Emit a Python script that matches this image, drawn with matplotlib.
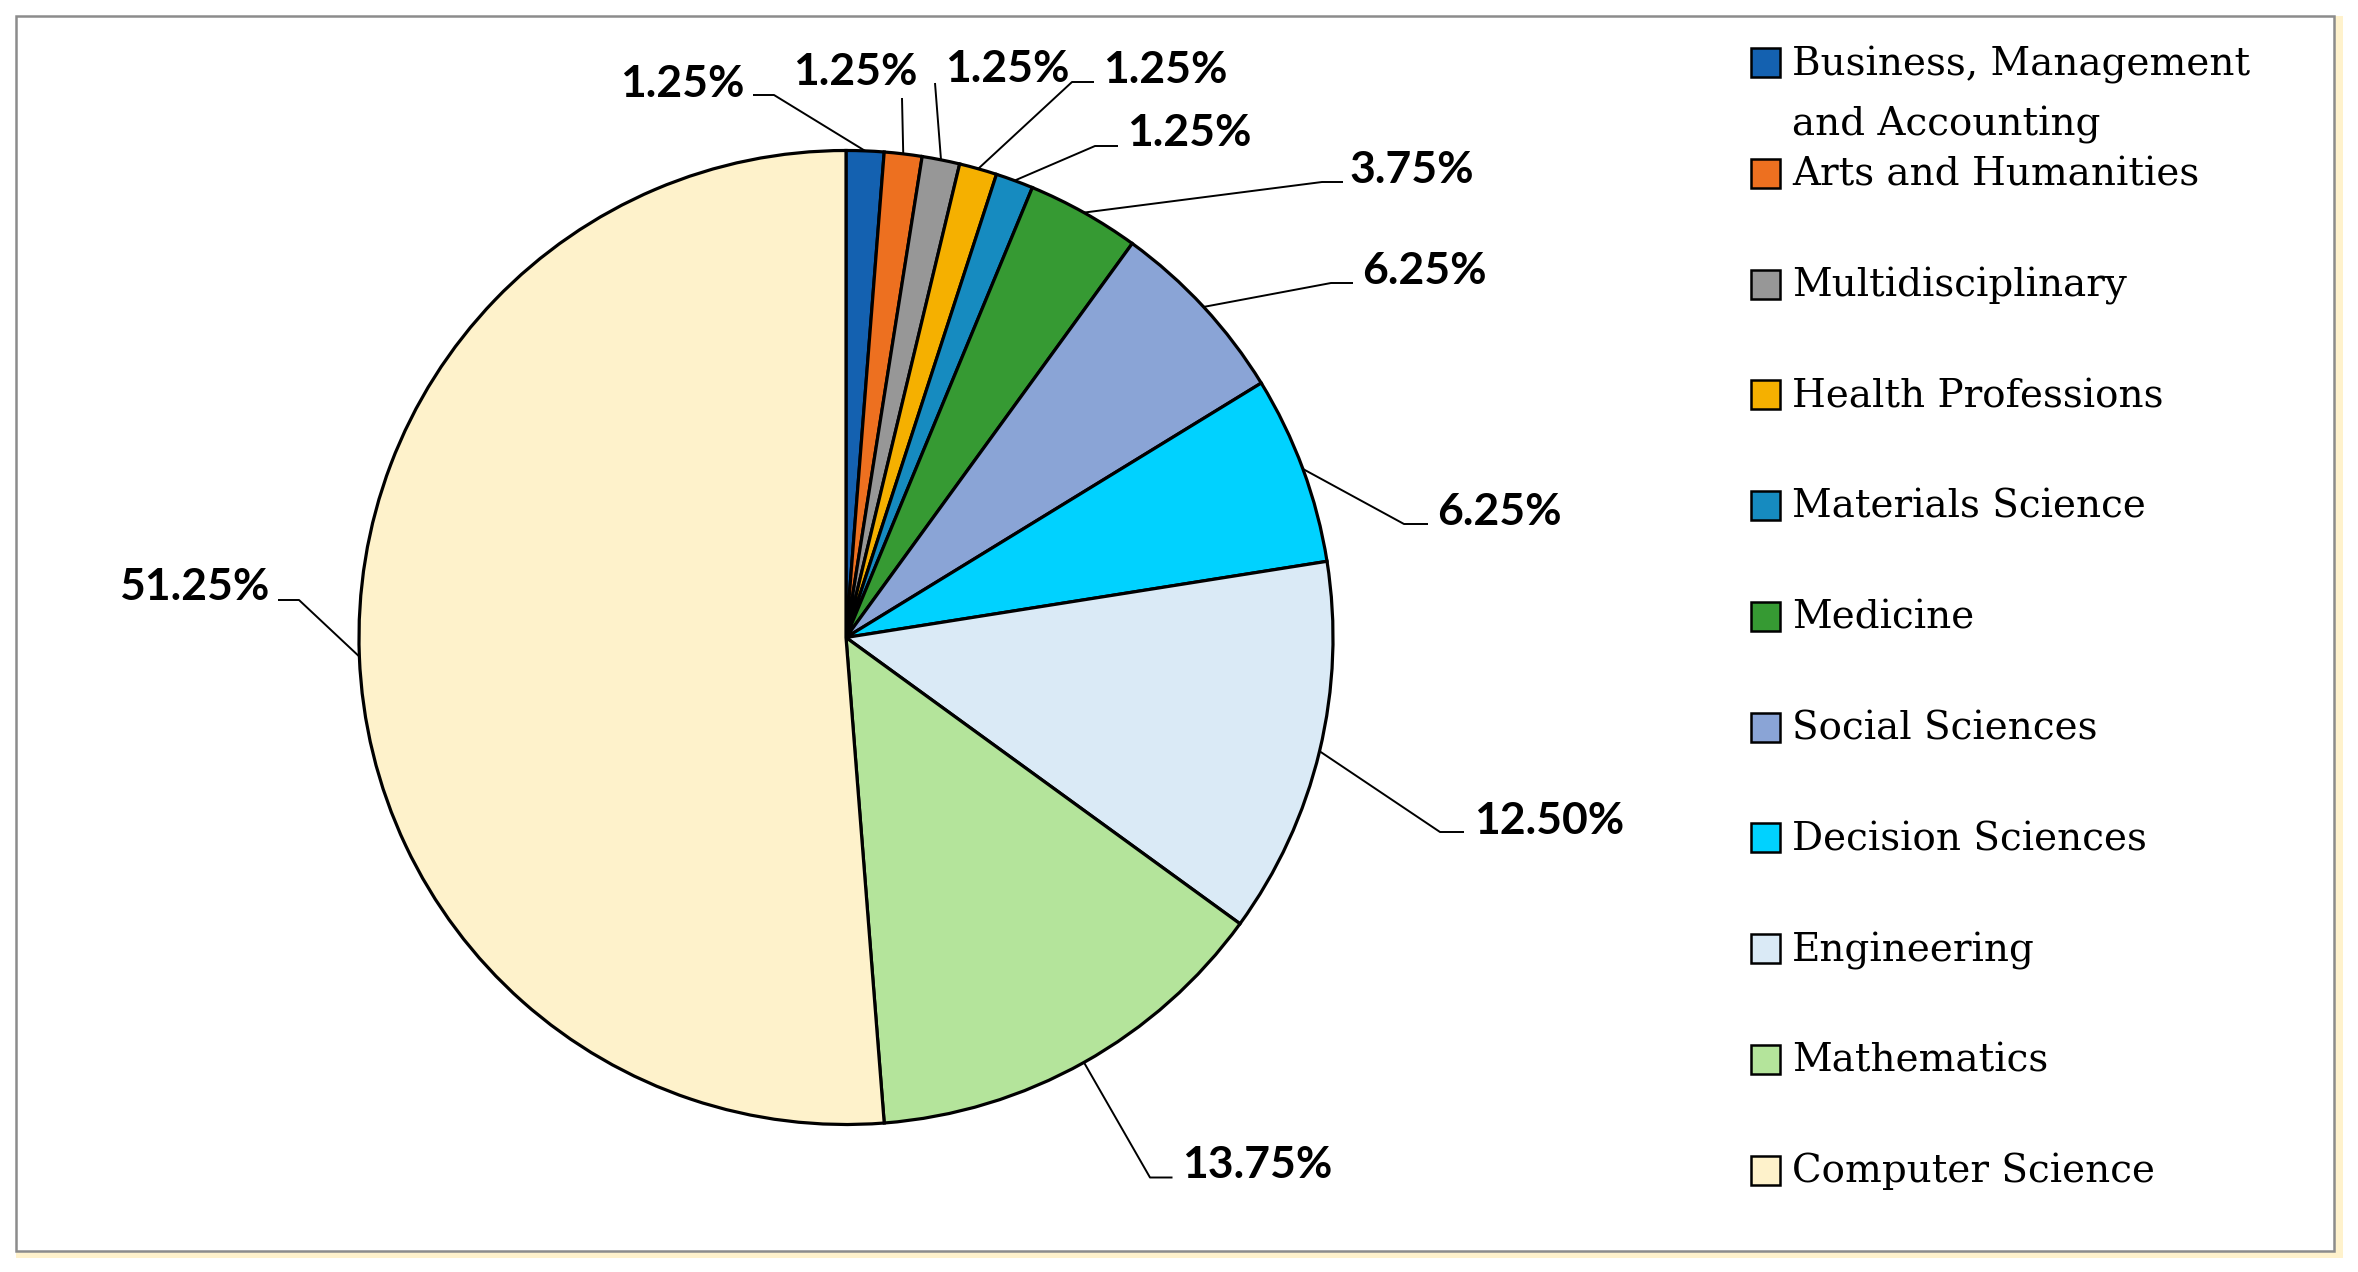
import matplotlib
matplotlib.use("Agg")
import numpy as np
import matplotlib.pyplot as plt
from matplotlib.patches import Rectangle

# data
categories = ["Business, Management\nand Accounting", "Arts and Humanities",
              "Multidisciplinary", "Health Professions", "Materials Science",
              "Medicine", "Social Sciences", "Decision Sciences", "Engineering",
              "Mathematics", "Computer Science"]
shares = [1.25, 1.25, 1.25, 1.25, 1.25, 3.75, 6.25, 6.25, 12.50, 13.75, 51.25]
colors = ["#1461B0", "#ED7020", "#979797", "#F5B000", "#168BC0", "#369A33",
          "#8AA4D6", "#00D2FF", "#DAEAF6", "#B4E49B", "#FEF2CB"]

# layout (pixels, y measured from the top of the picture)
W, H = 2358, 1272
pie_center = (846, 637.5)
pie_radius = 487
# label text: centre x, baseline y
label_pos = [(682, 97), (855, 85), (1007, 82), (1165, 83), (1189, 146.5),
             (1412, 183), (1424, 284), (1499, 525), (1549, 834), (1257, 1178),
             (194, 600)]
# leader: elbow point, end point next to the label
leader_pts = [((774, 95), (753, 95)), ((902, 98), (902, 98)),
              ((935, 83), (935, 83)), ((1072, 82), (1094, 82)),
              ((1095, 146), (1118, 146)), ((1322, 182), (1343, 182)),
              ((1331, 283), (1353, 283)), ((1404, 524), (1428, 524)),
              ((1440, 832), (1464, 832)), ((1150, 1177.5), (1172.5, 1177.5)),
              ((299, 600), (278, 600))]


def fy(y):
    return H - y


fig = plt.figure(figsize=(W / 100, H / 100), dpi=100)
fig.patch.set_facecolor("white")
ax = fig.add_axes([0, 0, 1, 1])

# frame with the cream shadow
ax.add_patch(Rectangle((16, fy(1258)), 2343 - 16, 1258 - 16,
                       facecolor="#FFF2CC", edgecolor="none", zorder=0))
ax.add_patch(Rectangle((16, fy(1251)), 2334 - 16, 1251 - 16,
                       facecolor="white", edgecolor="#8C8C8C", lw=1.8, zorder=0.5))

wedges, _ = ax.pie(shares, colors=colors, startangle=90, counterclock=False,
                   center=(pie_center[0], fy(pie_center[1])), radius=pie_radius,
                   wedgeprops=dict(edgecolor="black", linewidth=2.3))
for w in wedges:
    w.set_zorder(2)

ax.set_xlim(0, W)
ax.set_ylim(0, H)
ax.set_aspect("equal")
ax.axis("off")

# labels with leader lines
for w, share, (tx, ty), (elbow, end) in zip(wedges, shares, label_pos, leader_pts):
    mid = np.deg2rad((w.theta1 + w.theta2) / 2)
    ex = pie_center[0] + pie_radius * np.cos(mid)
    ey = fy(pie_center[1]) + pie_radius * np.sin(mid)
    ax.plot([ex, elbow[0], end[0]], [ey, fy(elbow[1]), fy(end[1])],
            color="black", lw=1.4, zorder=3, solid_capstyle="butt")
    ax.text(tx, fy(ty), "{:.2f}%".format(share), ha="center", va="baseline",
            fontsize=32, fontweight="bold", family="Lato", zorder=4)

# legend, drawn by hand
sq = 29
for i, (name, c) in enumerate(zip(categories, colors)):
    cy = 62.5 + i * 110.75
    ax.add_patch(Rectangle((1751, fy(cy + sq / 2)), sq, sq, facecolor=c,
                           edgecolor="black", lw=1.8, zorder=3))
    for j, line in enumerate(name.split("\n")):
        ax.text(1792, fy(cy + 12.5 + j * 61), line, ha="left", va="baseline",
                fontsize=28, family="DejaVu Serif", zorder=4)

fig.savefig("out.png", dpi=100)
